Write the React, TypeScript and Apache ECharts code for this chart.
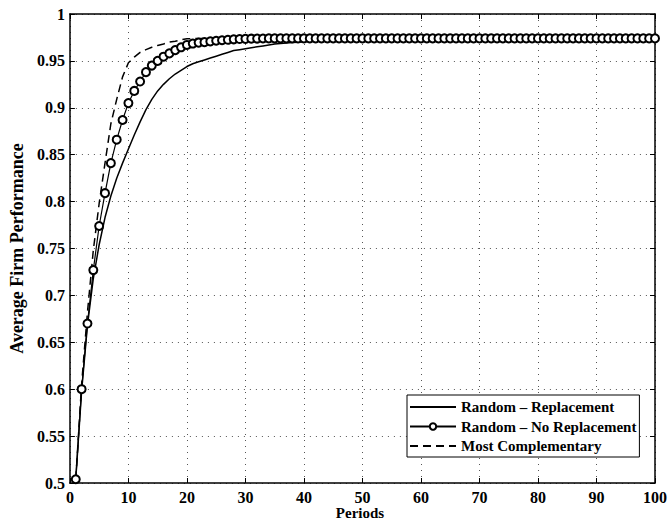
import React, { useEffect, useRef } from "react";
import * as echarts from "echarts";

const periods: number[] = [
  1, 2, 3, 4, 5, 6, 7, 8, 9, 10, 11, 12, 13, 14, 15, 16, 17, 18, 19, 20,
  21, 22, 23, 24, 25, 26, 27, 28, 29, 30, 31, 32, 33, 34, 35, 36, 37, 38, 39, 40,
  41, 42, 43, 44, 45, 46, 47, 48, 49, 50, 51, 52, 53, 54, 55, 56, 57, 58, 59, 60,
  61, 62, 63, 64, 65, 66, 67, 68, 69, 70, 71, 72, 73, 74, 75, 76, 77, 78, 79, 80,
  81, 82, 83, 84, 85, 86, 87, 88, 89, 90, 91, 92, 93, 94, 95, 96, 97, 98, 99, 100,
];

const randomReplacement: number[] = [
  0.504, 0.598, 0.668, 0.718, 0.754, 0.783, 0.806, 0.825, 0.841, 0.856,
  0.871, 0.885, 0.898, 0.909, 0.918, 0.925, 0.931, 0.936, 0.940, 0.944,
  0.947, 0.949, 0.951, 0.953, 0.955, 0.957, 0.959, 0.961, 0.962, 0.963,
  0.964, 0.965, 0.966, 0.967, 0.968, 0.9685, 0.969, 0.9695, 0.970, 0.9705,
  0.971, 0.9715, 0.972, 0.9725, 0.973, 0.9733, 0.9736, 0.9738, 0.974, 0.974,
  0.974, 0.974, 0.974, 0.974, 0.974, 0.974, 0.974, 0.974, 0.974, 0.974,
  0.974, 0.974, 0.974, 0.974, 0.974, 0.974, 0.974, 0.974, 0.974, 0.974,
  0.974, 0.974, 0.974, 0.974, 0.974, 0.974, 0.974, 0.974, 0.974, 0.974,
  0.974, 0.974, 0.974, 0.974, 0.974, 0.974, 0.974, 0.974, 0.974, 0.974,
  0.974, 0.974, 0.974, 0.974, 0.974, 0.974, 0.974, 0.974, 0.974, 0.974,
];

const randomNoReplacement: number[] = [
  0.504, 0.600, 0.670, 0.727, 0.774, 0.809, 0.841, 0.866, 0.887, 0.905,
  0.918, 0.928, 0.938, 0.945, 0.950, 0.9545, 0.958, 0.9615, 0.9645, 0.967,
  0.9685, 0.9695, 0.970, 0.9708, 0.9715, 0.972, 0.9725, 0.973, 0.9733, 0.9735,
  0.9737, 0.9738, 0.9739, 0.974, 0.974, 0.974, 0.974, 0.974, 0.974, 0.974,
  0.974, 0.974, 0.974, 0.974, 0.974, 0.974, 0.974, 0.974, 0.974, 0.974,
  0.974, 0.974, 0.974, 0.974, 0.974, 0.974, 0.974, 0.974, 0.974, 0.974,
  0.974, 0.974, 0.974, 0.974, 0.974, 0.974, 0.974, 0.974, 0.974, 0.974,
  0.974, 0.974, 0.974, 0.974, 0.974, 0.974, 0.974, 0.974, 0.974, 0.974,
  0.974, 0.974, 0.974, 0.974, 0.974, 0.974, 0.974, 0.974, 0.974, 0.974,
  0.974, 0.974, 0.974, 0.974, 0.974, 0.974, 0.974, 0.974, 0.974, 0.974,
];

const mostComplementary: number[] = [
  0.504, 0.605, 0.682, 0.748, 0.798, 0.841, 0.883, 0.909, 0.933, 0.948,
  0.954, 0.959, 0.962, 0.9645, 0.9665, 0.968, 0.970, 0.971, 0.9725, 0.9735,
  0.9738, 0.974, 0.974, 0.974, 0.974, 0.974, 0.974, 0.974, 0.974, 0.974,
  0.974, 0.974, 0.974, 0.974, 0.974, 0.974, 0.974, 0.974, 0.974, 0.974,
  0.974, 0.974, 0.974, 0.974, 0.974, 0.974, 0.974, 0.974, 0.974, 0.974,
  0.974, 0.974, 0.974, 0.974, 0.974, 0.974, 0.974, 0.974, 0.974, 0.974,
  0.974, 0.974, 0.974, 0.974, 0.974, 0.974, 0.974, 0.974, 0.974, 0.974,
  0.974, 0.974, 0.974, 0.974, 0.974, 0.974, 0.974, 0.974, 0.974, 0.974,
  0.974, 0.974, 0.974, 0.974, 0.974, 0.974, 0.974, 0.974, 0.974, 0.974,
  0.974, 0.974, 0.974, 0.974, 0.974, 0.974, 0.974, 0.974, 0.974, 0.974,
];

const seriesNames = ["Random \u2013 Replacement", "Random \u2013 No Replacement", "Most Complementary"];
const xAxisTitle = "Periods";
const yAxisTitle = "Average Firm Performance";

const FONT = "'Liberation Serif', 'Times New Roman', serif";

function pairs(ys: number[]): [number, number][] {
  return periods.map((p, i) => [p, ys[i]]);
}

export default function App() {
  const ref = useRef<HTMLDivElement>(null);
  useEffect(() => {
    if (!ref.current) return;
    const chart = echarts.init(ref.current, null, { renderer: "svg" });
    const labelStyle = { fontFamily: FONT, fontWeight: "bold" as const, fontSize: 16, color: "#000" };
    const axisLine = { show: true, onZero: false, lineStyle: { color: "#000", width: 1.5 } };
    const tick = { show: true, inside: true, length: 5, lineStyle: { color: "#000", width: 1 } };
    const split = { show: true, lineStyle: { color: "#555", type: [1, 5] as any, width: 1 } };
    chart.setOption({
      animation: false,
      backgroundColor: "#fff",
      grid: { left: 63, right: 12, top: 14, bottom: 39, containLabel: false },
      graphic: [
        {
          type: "text",
          x: 360,
          y: 505,
          style: {
            text: xAxisTitle,
            fontFamily: FONT,
            fontWeight: "bold",
            fontSize: 15,
            fill: "#000",
            align: "center",
            verticalAlign: "top",
          },
        },
      ],
      legend: {
        orient: "vertical",
        left: 407,
        top: 395,
        padding: [4, 3, 3, 2],
        itemGap: 3.5,
        itemWidth: 46,
        itemHeight: 8,
        borderColor: "#000",
        borderWidth: 1,
        borderRadius: 0,
        backgroundColor: "#fff",
        textStyle: { fontFamily: FONT, fontWeight: "bold", fontSize: 15, lineHeight: 16, color: "#000" },
        data: [
          { name: seriesNames[0], itemStyle: { opacity: 0 } },
          { name: seriesNames[1] },
          { name: seriesNames[2], itemStyle: { opacity: 0 } },
        ],
      },
      xAxis: [
        {
          type: "value",
          min: 0,
          max: 100,
          interval: 10,
          axisLine,
          axisTick: tick,
          axisLabel: { ...labelStyle, margin: 6 },
          splitLine: split,
        },
        {
          type: "value",
          position: "top",
          min: 0,
          max: 100,
          interval: 10,
          axisLine,
          axisTick: tick,
          axisLabel: { show: false },
          splitLine: { show: false },
        },
      ],
      yAxis: [
        {
          type: "value",
          min: 0.5,
          max: 1,
          interval: 0.05,
          name: yAxisTitle,
          nameLocation: "middle",
          nameGap: 42,
          nameTextStyle: { ...labelStyle, fontSize: 18 },
          axisLine,
          axisTick: tick,
          axisLabel: {
            ...labelStyle,
            margin: 5,
            formatter: (v: number) => String(parseFloat(v.toFixed(2))),
          },
          splitLine: split,
        },
        {
          type: "value",
          position: "right",
          min: 0.5,
          max: 1,
          interval: 0.05,
          axisLine,
          axisTick: tick,
          axisLabel: { show: false },
          splitLine: { show: false },
        },
      ],
      series: [
        {
          name: seriesNames[0],
          type: "line",
          data: pairs(randomReplacement),
          showSymbol: false,
          symbol: "none",
          lineStyle: { color: "#000", width: 1.5 },
          itemStyle: { color: "#000" },
        },
        {
          name: seriesNames[1],
          type: "line",
          data: pairs(randomNoReplacement),
          symbol: "emptyCircle",
          symbolSize: 8,
          lineStyle: { color: "#000", width: 1.2 },
          itemStyle: { color: "#000", borderWidth: 1.2 },
        },
        {
          name: seriesNames[2],
          type: "line",
          data: pairs(mostComplementary),
          showSymbol: false,
          symbol: "none",
          lineStyle: { color: "#000", width: 1.5, type: [8, 5] as any },
          itemStyle: { color: "#000" },
        },
      ],
    });
    return () => chart.dispose();
  }, []);
  return <div ref={ref} style={{ position: "absolute", left: 0, top: 0, width: 670, height: 522 }} />;
}
